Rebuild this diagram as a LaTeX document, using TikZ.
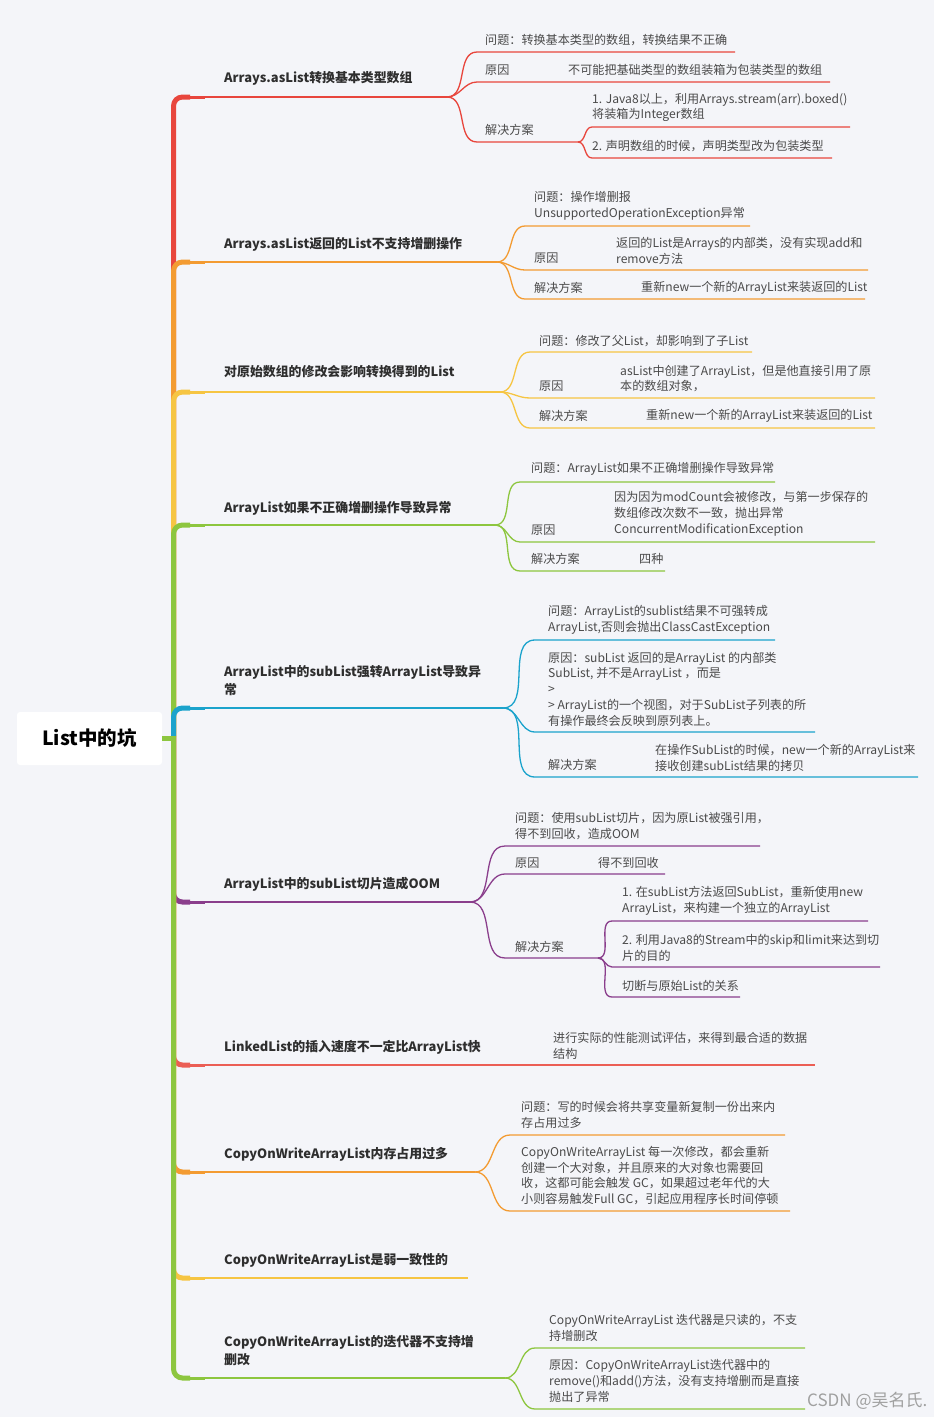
\documentclass[tikz,border=0pt]{standalone}
\usepackage{fontspec}
\setmainfont{Noto Sans CJK SC}
\definecolor{bg}{HTML}{F4F5F9}
\definecolor{cred}{HTML}{E8463D}
\definecolor{corange}{HTML}{F39B32}
\definecolor{cyellow}{HTML}{F6C543}
\definecolor{cgreen}{HTML}{8DC63F}
\definecolor{cblue}{HTML}{1BA3CC}
\definecolor{cpurple}{HTML}{8A3E8C}
\definecolor{csalmon}{HTML}{EB5E55}
\definecolor{maintxt}{HTML}{2E2E2E}
\definecolor{subtxt}{HTML}{4A4A4A}
\definecolor{wmtxt}{HTML}{A0A0A0}
\tikzset{
  trunkline/.style={line width=5pt, rounded corners=9pt},
  stubline/.style={line width=3pt},
  branchline/.style={line width=1.6pt},
  subline/.style={line width=1.3pt},
  maintext/.style={anchor=west, inner sep=0pt, align=left, text=maintxt, font=\fontsize{12.9}{18}\selectfont\bfseries},
  subtext/.style={anchor=west, inner sep=0pt, align=left, text=subtxt, font=\fontsize{12.1}{15.8}\selectfont},
  rootbox/.style={fill=white, rounded corners=3pt, minimum width=145pt, minimum height=53pt, inner sep=0pt, text=black, font=\fontsize{19.5}{22}\selectfont\bfseries},
  wmark/.style={anchor=west, inner sep=0pt, text=wmtxt, font=\fontsize{17}{19}\selectfont}
}
% main branch: colour, y, x of end, name
\newcommand\mbranch[4]{%
  \coordinate (#4o) at (173.5,736);
  \coordinate (#4c) at (190,#2);
  \coordinate (#4d) at (205,#2);
  \coordinate (#4) at (#3,#2);
  \draw[trunkline,#1] (#4o) |- (#4c);
  \draw[stubline,#1] (#4c) -- (#4d);
  \draw[branchline,#1] (#4d) -- (#4);
}
% sub branch: colour, from, y, x start, x end, name
\newcommand\sbranch[6]{%
  \coordinate (#6s) at (#4,#3);
  \coordinate (#6) at (#5,#3);
  \draw[subline,#1] (#2) to[out=0,in=180] (#6s) -- (#6);
}
\begin{document}
\begin{tikzpicture}[x=1pt,y=-1pt]
\useasboundingbox (0,0) rectangle (934,1417);
\fill[bg] (0,0) rectangle (934,1417);

% ---------- main branches above root ----------
\mbranch{cred}{97}{447}{b1}
\mbranch{corange}{262}{497}{b2}
\mbranch{cyellow}{392}{500}{b3}
\mbranch{cgreen}{525}{495}{b4}
\mbranch{cblue}{708}{503}{b5}
% ---------- main branches below root ----------
\mbranch{cpurple}{902}{470}{b6}
\mbranch{csalmon}{1065}{815}{b7}
\mbranch{corange}{1172}{475}{b8}
\mbranch{cyellow}{1278}{468}{b9}
\mbranch{cgreen}{1378}{505}{b10}

% ---------- root ----------
\node[rootbox] (root) at (89.5,738.5) {List中的坑};
\coordinate (rootj) at (173.5,738.5);
\draw[line width=5pt,cgreen] (root.east) -- (rootj);

% ---------- branch 1 ----------
\node[maintext] (t1) at (224,78) {Arrays.asList转换基本类型数组};
\sbranch{cred}{b1}{52}{477}{735}{p1}
\sbranch{cred}{b1}{82}{477}{830}{r1}
\sbranch{cred}{b1}{142}{477}{578}{j1}
\sbranch{cred}{j1}{127}{592}{850}{j1a}
\sbranch{cred}{j1}{158}{592}{832}{j1b}
\node[subtext] (p1t) at (485,40) {问题：转换基本类型的数组，转换结果不正确};
\node[subtext] (r1t) at (485,70) {原因};
\node[subtext] (r1c) at (568,70) {不可能把基础类型的数组装箱为包装类型的数组};
\node[subtext] (j1t) at (485,130) {解决方案};
\node[subtext] (j1at) at (592,107.5) {1. Java8以上，利用Arrays.stream(arr).boxed()\\将装箱为Integer数组};
\node[subtext] (j1bt) at (592,146) {2. 声明数组的时候，声明类型改为包装类型};

% ---------- branch 2 ----------
\node[maintext] (t2) at (224,244) {Arrays.asList返回的List不支持增删操作};
\sbranch{corange}{b2}{226}{525}{750}{p2}
\sbranch{corange}{b2}{270}{525}{868}{r2}
\sbranch{corange}{b2}{299}{525}{865}{j2}
\node[subtext] (p2t) at (534,206) {问题：操作增删报\\UnsupportedOperationException异常};
\node[subtext] (r2t) at (534,258) {原因};
\node[subtext] (r2c) at (616,250.5) {返回的List是Arrays的内部类，没有实现add和\\remove方法};
\node[subtext] (j2t) at (534,288) {解决方案};
\node[subtext] (j2c) at (641,288) {重新new一个新的ArrayList来装返回的List};

% ---------- branch 3 ----------
\node[maintext] (t3) at (224,372) {对原始数组的修改会影响转换得到的List};
\sbranch{cyellow}{b3}{352}{530}{752}{p3}
\sbranch{cyellow}{b3}{398}{530}{875}{r3}
\sbranch{cyellow}{b3}{428}{530}{875}{j3}
\node[subtext] (p3t) at (539,341) {问题：修改了父List，却影响到了子List};
\node[subtext] (r3t) at (539,386) {原因};
\node[subtext] (r3c) at (620,378.5) {asList中创建了ArrayList，但是他直接引用了原\\本的数组对象，};
\node[subtext] (j3t) at (539,416) {解决方案};
\node[subtext] (j3c) at (646,416) {重新new一个新的ArrayList来装返回的List};

% ---------- branch 4 ----------
\node[maintext] (t4) at (224,508) {ArrayList如果不正确增删操作导致异常};
\sbranch{cgreen}{b4}{482}{520}{775}{p4}
\sbranch{cgreen}{b4}{542}{520}{875}{r4}
\sbranch{cgreen}{b4}{571}{520}{665}{j4}
\node[subtext] (p4t) at (531,469) {问题：ArrayList如果不正确增删操作导致异常};
\node[subtext] (r4t) at (531,530) {原因};
\node[subtext] (r4c) at (614,514) {因为因为modCount会被修改，与第一步保存的\\数组修改次数不一致，抛出异常\\ConcurrentModificationException};
\node[subtext] (j4t) at (531,559) {解决方案};
\node[subtext] (j4c) at (639,559) {四种};

% ---------- branch 5 ----------
\node[maintext] (t5) at (224,681) {ArrayList中的subList强转ArrayList导致异\\常};
\sbranch{cblue}{b5}{640}{535}{775}{p5}
\sbranch{cblue}{b5}{732}{535}{815}{r5}
\sbranch{cblue}{b5}{777}{535}{918}{j5}
\node[subtext] (p5t) at (548,620) {问题：ArrayList的sublist结果不可强转成\\ArrayList,否则会抛出ClassCastException};
\node[subtext] (r5t) at (548,689) {原因：subList 返回的是ArrayList 的内部类\\SubList, 并不是ArrayList ，而是\\>\\> ArrayList的一个视图，对于SubList子列表的所\\有操作最终会反映到原列表上。};
\node[subtext] (j5t) at (548,765) {解决方案};
\node[subtext] (j5c) at (655,757.5) {在操作SubList的时候，new一个新的ArrayList来\\接收创建subList结果的拷贝};

% ---------- branch 6 ----------
\node[maintext] (t6) at (224,884) {ArrayList中的subList切片造成OOM};
\sbranch{cpurple}{b6}{846}{505}{760}{p6}
\sbranch{cpurple}{b6}{874}{505}{665}{r6}
\sbranch{cpurple}{b6}{958}{505}{598}{j6}
\sbranch{cpurple}{j6}{921}{612}{868}{j6a}
\sbranch{cpurple}{j6}{967}{612}{880}{j6b}
\sbranch{cpurple}{j6}{997}{612}{740}{j6c}
\node[subtext] (p6t) at (515,826) {问题：使用subList切片，因为原List被强引用，\\得不到回收，造成OOM};
\node[subtext] (r6t) at (515,863) {原因};
\node[subtext] (r6c) at (598,863) {得不到回收};
\node[subtext] (j6t) at (515,947) {解决方案};
\node[subtext] (j6at) at (622,901) {1. 在subList方法返回SubList，重新使用new\\ArrayList，来构建一个独立的ArrayList};
\node[subtext] (j6bt) at (622,948) {2. 利用Java8的Stream中的skip和limit来达到切\\片的目的};
\node[subtext] (j6ct) at (622,986) {切断与原始List的关系};

% ---------- branch 7 ----------
\node[maintext] (t7) at (224,1047) {LinkedList的插入速度不一定比ArrayList快};
\node[subtext] (t7c) at (553,1046) {进行实际的性能测试评估，来得到最合适的数据\\结构};

% ---------- branch 8 ----------
\node[maintext] (t8) at (224,1154) {CopyOnWriteArrayList内存占用过多};
\sbranch{corange}{b8}{1135}{510}{785}{p8}
\sbranch{corange}{b8}{1211}{510}{790}{r8}
\node[subtext] (p8t) at (521,1115) {问题：写的时候会将共享变量新复制一份出来内\\存占用过多};
\node[subtext] (r8t) at (521,1175.5) {CopyOnWriteArrayList 每一次修改，都会重新\\创建一个大对象，并且原来的大对象也需要回\\收，这都可能会触发 GC，如果超过老年代的大\\小则容易触发Full GC，引起应用程序长时间停顿};

% ---------- branch 9 ----------
\node[maintext] (t9) at (224,1260) {CopyOnWriteArrayList是弱一致性的};

% ---------- branch 10 ----------
\node[maintext] (t10) at (224,1351) {CopyOnWriteArrayList的迭代器不支持增\\删改};
\sbranch{cgreen}{b10}{1348}{535}{805}{p10}
\sbranch{cgreen}{b10}{1409}{535}{805}{r10}
\node[subtext] (p10t) at (549,1328) {CopyOnWriteArrayList 迭代器是只读的，不支\\持增删改};
\node[subtext] (r10t) at (549,1381) {原因：CopyOnWriteArrayList迭代器中的\\remove()和add()方法，没有支持增删而是直接\\抛出了异常};

% ---------- watermark ----------
\node[wmark] (wm) at (807,1401) {CSDN @吴名氏.};
\end{tikzpicture}
\end{document}
